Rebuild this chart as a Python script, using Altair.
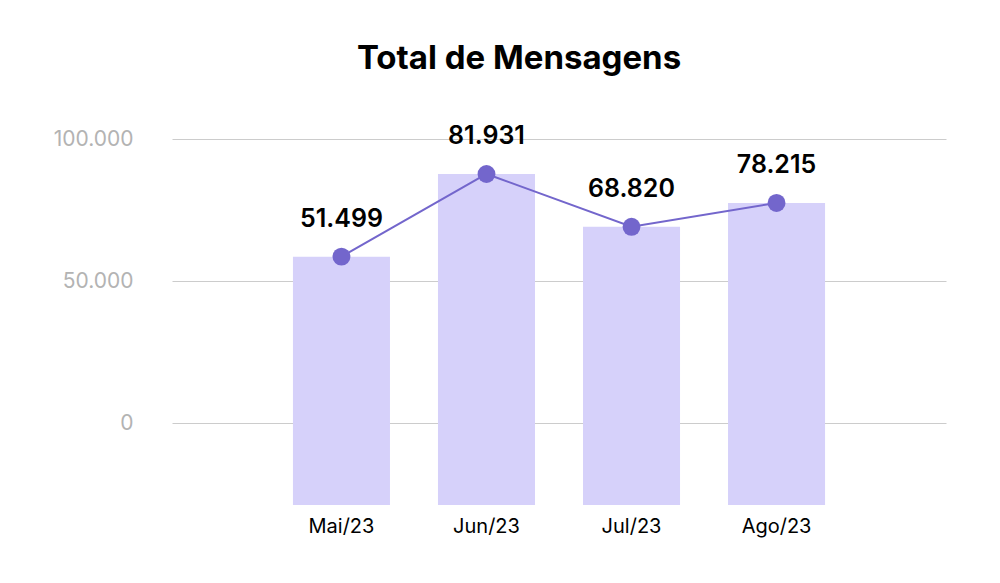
import altair as alt
import pandas as pd

months = ["Mai/23", "Jun/23", "Jul/23", "Ago/23"]
# heights (bar tops / point centres)
values = [58600, 87700, 69100, 77500]
# printed labels as they appear in the picture
labels = ["51.499", "81.931", "68.820", "78.215"]
baseline = -28800

df = pd.DataFrame({"mes": months, "valor": values, "rotulo": labels, "base": [baseline] * 4})

FONT = "Inter"
ydom = [baseline, 100000]

x = alt.X("mes:N", sort=months, title=None,
          scale=alt.Scale(paddingInner=0.331, paddingOuter=0.834),
          axis=alt.Axis(labelAngle=0, labelFontSize=20, labelColor="#000000",
                        labelFont=FONT, labelPadding=11, domain=False, ticks=False, grid=False))
y = alt.Y("valor:Q", title=None,
          scale=alt.Scale(domain=ydom, nice=False, zero=False),
          axis=alt.Axis(values=[0, 50000, 100000], labelFontSize=21, labelColor="#b3b3b3",
                        labelFont=FONT, labelPadding=39, domain=False, ticks=False,
                        grid=True, gridColor="#cccccc", gridWidth=1,
                        labelExpr="replace(format(datum.value, ',d'), ',', '.')"))

bars = alt.Chart(df).mark_bar(color="#d6d1fa").encode(x=x, y=y, y2="base:Q")
line = alt.Chart(df).mark_line(color="#7366cc", strokeWidth=2).encode(x=x, y=y)
pts = alt.Chart(df).mark_circle(color="#7366cc", size=320, opacity=1).encode(x=x, y=y)
txt = alt.Chart(df).mark_text(dy=-38, fontSize=25, fontWeight=600, font=FONT,
                              color="#000000").encode(x=x, y=y, text="rotulo:N")

chart = alt.layer(bars, line, pts, txt).properties(
    width=774, height=366,
    background="#ffffff",
    title=alt.TitleParams("Total de Mensagens", fontSize=33, fontWeight="bold", font=FONT,
                          color="#000000", anchor="middle", dx=-40, offset=48),
    autosize=alt.AutoSizeParams(type="none"),
    padding={"left": 164, "top": 131, "right": 30, "bottom": 60},
).configure_view(strokeWidth=0, stroke=None)

chart.save("out.html", embed_options={"renderer": "svg", "actions": False})
